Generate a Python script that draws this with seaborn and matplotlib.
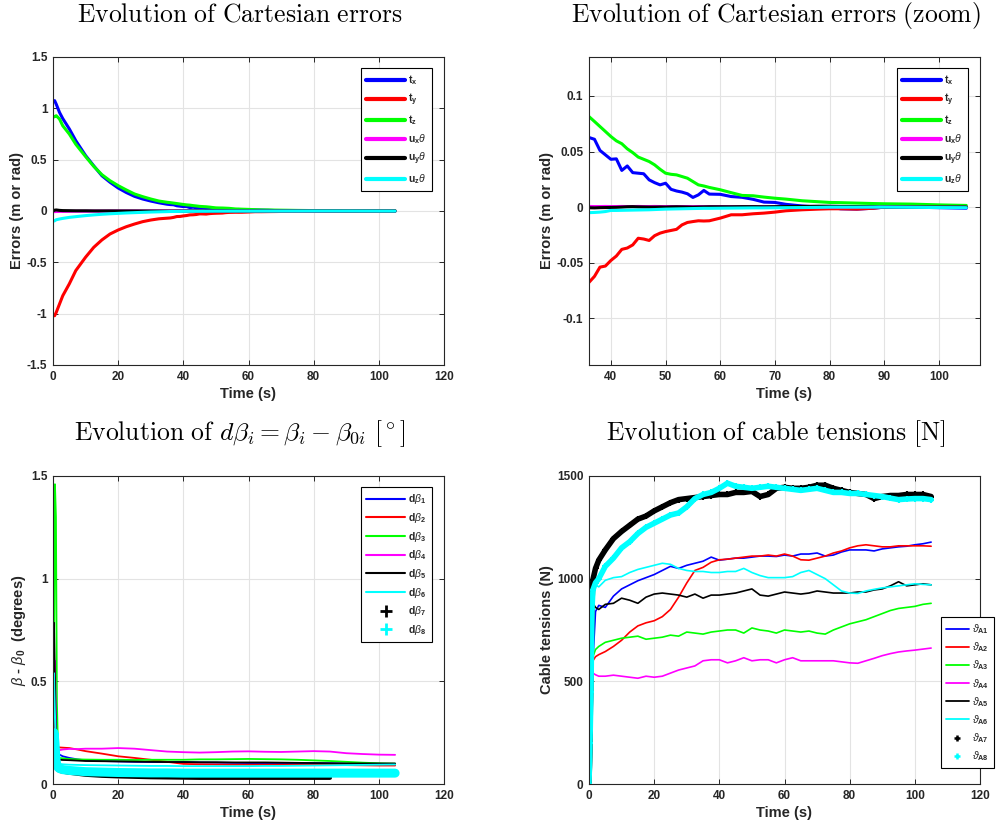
import numpy as np
import matplotlib
matplotlib.use("Agg")
import matplotlib.pyplot as plt
from matplotlib.lines import Line2D
from matplotlib.ticker import FuncFormatter
import seaborn as sns

# ---------------- Cartesian errors (top panels share the samples) ----------------
t_err = [0, 0.5, 1, 2, 3, 5, 7, 10, 12.5, 15, 17.5, 20, 22.5, 25, 27.5, 30, 32.5, 35,
         36, 37, 38, 39, 40, 41, 42, 43, 44, 45, 46, 47, 48, 49, 50, 51, 52, 53, 54, 55, 56, 57, 58,
         60, 62, 64, 66, 68, 70, 72, 75, 78, 80, 82, 85, 88, 90, 95, 100, 105]

tx = [1.065, 1.075, 1.04, 0.96, 0.90, 0.80, 0.685, 0.54, 0.44, 0.344, 0.28, 0.224, 0.18, 0.143, 0.117, 0.097, 0.08, 0.066,
      0.0626, 0.061, 0.051, 0.047, 0.043, 0.0434, 0.033, 0.037, 0.031, 0.0305, 0.030, 0.0245, 0.022, 0.020, 0.0215,
      0.016, 0.0145, 0.0135, 0.012, 0.0087, 0.011, 0.015, 0.0117,
      0.0115, 0.0095, 0.0088, 0.007, 0.0045, 0.0042, 0.0025, 0.001, 0.0, 0.0, -0.0015, -0.0018, -0.001, 0.0, 0.0, -0.0005, -0.001]
ty = [-1.02, -1.02, -0.987, -0.906, -0.825, -0.71, -0.58, -0.45, -0.354, -0.282, -0.224, -0.185, -0.153, -0.127, -0.104, -0.088, -0.076, -0.07,
      -0.0677, -0.0623, -0.054, -0.053, -0.048, -0.044, -0.038, -0.0368, -0.034, -0.028, -0.0287, -0.030, -0.0257, -0.0234, -0.022,
      -0.021, -0.020, -0.016, -0.0138, -0.013, -0.0123, -0.0125, -0.0123,
      -0.0099, -0.0069, -0.0069, -0.006, -0.0054, -0.0045, -0.0033, -0.0024, -0.0018, -0.0015, -0.0015, -0.0018, -0.001, 0.0, 0.0, 0.0, 0.0]
tz = [0.912, 0.92, 0.928, 0.896, 0.83, 0.75, 0.65, 0.53, 0.435, 0.354, 0.295, 0.247, 0.205, 0.166, 0.14, 0.117, 0.097, 0.085,
      0.0814, 0.077, 0.0725, 0.068, 0.0635, 0.0596, 0.057, 0.0524, 0.049, 0.045, 0.043, 0.041, 0.038, 0.034, 0.0305,
      0.0295, 0.029, 0.0275, 0.026, 0.023, 0.020, 0.019, 0.0177,
      0.0156, 0.013, 0.0105, 0.0102, 0.009, 0.008, 0.0072, 0.0057, 0.0048, 0.0042, 0.004, 0.0036, 0.0032, 0.003, 0.0027, 0.002, 0.0015]
ux = [-0.005, -0.006, -0.005, -0.004, -0.004, -0.003, -0.002, -0.002, -0.001, -0.001, -0.0005, 0, 0, 0, 0, 0.0003, 0.0005, 0.0005,
      0.0006, 0.0005, 0.0005, 0.0006, 0.0005, 0.0005, 0.0006, 0.0005, 0.0005, 0.0006, 0.0005, 0.0005, 0.0006, 0.0005, 0.0005,
      0.0005, 0.0004, 0.0005, 0.0005, 0.0004, 0.0005, 0.0004, 0.0004,
      0.0004, 0.0003, 0.0002, 0.0002, 0.0001, 0, 0, 0, 0, 0, 0, 0, 0, 0, 0, 0, 0]
uy = [0.0, 0.008, 0.01, 0.006, 0.004, 0.003, 0.002, 0.002, 0.001, 0.001, 0.001, 0.0005, 0.0005, 0.0003, 0.0, -0.0003, -0.0005, -0.0006,
      -0.0006, -0.0007, -0.0005, -0.0004, -0.0003, -0.0002, 0.0, 0.0003, 0.0004, 0.0002, 0.0001, 0.0, 0.0, 0.0001, 0.0,
      0.0002, 0.0003, 0.0002, 0.0001, 0.0, 0.0001, 0.0002, 0.0003,
      0.0003, 0.0003, 0.0004, 0.0004, 0.0003, 0.0004, 0.0005, 0.0006, 0.0008, 0.0008, 0.0006, 0.0005, 0.0003, 0.0, 0.0, 0.0, 0.0]
uz = [-0.10, -0.095, -0.085, -0.078, -0.072, -0.062, -0.055, -0.045, -0.038, -0.032, -0.027, -0.023, -0.019, -0.016, -0.013, -0.01, -0.008, -0.006,
      -0.005, -0.0048, -0.0045, -0.004, -0.003, -0.003, -0.0029, -0.0028, -0.0027, -0.0026, -0.0025, -0.0024, -0.0022, -0.002, -0.0018,
      -0.0017, -0.0016, -0.0015, -0.0014, -0.0013, -0.0012, -0.0011, -0.0011,
      -0.001, -0.0009, -0.0008, -0.0007, -0.0007, -0.0006, -0.0005, -0.0004, -0.0002, 0.0, 0.0, 0.0, 0.0, 0.0, -0.0002, -0.0004, -0.0005]

err_labels = [r'$\mathbf{t}_{\mathbf{x}}$', r'$\mathbf{t}_{\mathbf{y}}$', r'$\mathbf{t}_{\mathbf{z}}$',
              r'$\mathbf{u}_{\mathbf{x}}\theta$', r'$\mathbf{u}_{\mathbf{y}}\theta$', r'$\mathbf{u}_{\mathbf{z}}\theta$']

# ---------------- d beta ----------------
t_beta = [0, 0.3, 0.6, 0.9, 1.2, 1.6, 2, 3, 5, 7.5, 10, 15, 20, 25, 30, 35, 40, 45, 50, 55,
          60, 65, 70, 75, 80, 85, 90, 95, 100, 105]
d1 = [0.2, 0.3, 0.35, 0.25, 0.18, 0.15, 0.143, 0.135, 0.127, 0.12, 0.115, 0.112, 0.11, 0.108, 0.107, 0.107, 0.107, 0.105, 0.104, 0.103,
      0.102, 0.102, 0.102, 0.102, 0.102, 0.101, 0.1, 0.099, 0.098, 0.097]
d2 = [0.2, 0.25, 0.3, 0.25, 0.2, 0.18, 0.178, 0.177, 0.175, 0.168, 0.16, 0.148, 0.135, 0.127, 0.118, 0.108, 0.098, 0.096, 0.095, 0.094,
      0.094, 0.094, 0.094, 0.094, 0.094, 0.093, 0.092, 0.091, 0.09, 0.09]
d3 = [0.2, 0.6, 1.46, 1.3, 0.4, 0.13, 0.127, 0.125, 0.122, 0.12, 0.119, 0.118, 0.118, 0.117, 0.118, 0.118, 0.118, 0.12, 0.12, 0.121,
      0.122, 0.121, 0.12, 0.118, 0.115, 0.112, 0.108, 0.104, 0.101, 0.099]
d4 = [0.2, 0.5, 0.6, 0.3, 0.18, 0.165, 0.165, 0.168, 0.171, 0.17, 0.172, 0.172, 0.175, 0.172, 0.165, 0.158, 0.155, 0.153, 0.155, 0.158,
      0.159, 0.157, 0.156, 0.158, 0.16, 0.158, 0.15, 0.146, 0.143, 0.142]
d5 = [0.2, 0.785, 0.5, 0.25, 0.15, 0.12, 0.118, 0.117, 0.116, 0.114, 0.112, 0.111, 0.11, 0.109, 0.108, 0.107, 0.107, 0.106, 0.106, 0.105,
      0.105, 0.105, 0.104, 0.103, 0.102, 0.101, 0.1, 0.1, 0.1, 0.1]
d6 = [0.2, 0.54, 0.35, 0.2, 0.12, 0.1, 0.098, 0.096, 0.094, 0.093, 0.092, 0.091, 0.09, 0.089, 0.088, 0.088, 0.087, 0.087, 0.087, 0.087,
      0.087, 0.088, 0.088, 0.089, 0.09, 0.091, 0.092, 0.093, 0.094, 0.095]
d7 = [0.15, 0.2, 0.12, 0.09, 0.075, 0.068, 0.064, 0.06, 0.055, 0.05, 0.045, 0.04, 0.037, 0.035, 0.033, 0.032, 0.031, 0.03, 0.03, 0.03,
      0.03, 0.03, 0.03, 0.03, 0.03, 0.03, np.nan, np.nan, np.nan, np.nan]
d8 = [0.2, 0.25, 0.2, 0.12, 0.09, 0.08, 0.075, 0.07, 0.066, 0.063, 0.06, 0.058, 0.056, 0.055, 0.054, 0.054, 0.053, 0.053, 0.053, 0.053,
      0.053, 0.053, 0.053, 0.053, 0.053, 0.053, 0.053, 0.053, 0.053, 0.053]
beta_labels = [r'$\mathbf{d}\beta_{\mathbf{%d}}$' % i for i in range(1, 9)]

# ---------------- cable tensions ----------------
t_ten = [0, 0.3, 0.6, 0.9, 1.2, 2, 3, 5, 7.5, 10, 12.5, 15, 17.5, 20, 22.5, 25, 27.5, 30, 32.5, 35, 37.5, 40,
         42.5, 45, 47.5, 50, 52.5, 55, 57.5, 60, 62.5, 65, 67.5, 70, 72.5, 75, 77.5, 80, 82.5, 85, 87.5, 90,
         92.5, 95, 97.5, 100, 102.5, 105]
A1 = [0, 0, 0, 300, 600, 840, 870, 860,
      915, 950, 970, 990, 1005, 1020, 1040, 1060, 1050, 1065, 1075, 1085, 1105, 1090, 1095, 1100, 1100, 1105, 1110, 1110,
      1108, 1115, 1110, 1120, 1120, 1125, 1110, 1115, 1130, 1140, 1140, 1140, 1135, 1145, 1150, 1155, 1158, 1165, 1170, 1178]
A2 = [0, 0, 100, 590, 600, 620, 630, 645,
      670, 700, 740, 770, 785, 795, 815, 850, 910, 979, 1040, 1055, 1080, 1092, 1095, 1100, 1105, 1110, 1110, 1115,
      1110, 1120, 1110, 1092, 1090, 1100, 1110, 1125, 1135, 1150, 1160, 1165, 1160, 1155, 1155, 1160, 1160, 1160, 1160, 1158]
A3 = [0, 0, 0, 300, 620, 655, 670, 690,
      700, 710, 715, 720, 705, 710, 715, 725, 720, 740, 735, 730, 740, 745, 750, 750, 735, 760, 750, 745,
      735, 750, 745, 740, 745, 735, 730, 750, 765, 780, 790, 800, 815, 830, 845, 855, 860, 865, 875, 880]
A4 = [0, 0, 300, 557, 540, 532, 525, 525,
      530, 525, 520, 515, 525, 520, 525, 540, 555, 565, 575, 600, 605, 605, 590, 600, 615, 600, 605, 605,
      590, 605, 615, 600, 600, 600, 600, 600, 595, 590, 588, 600, 612, 625, 635, 643, 648, 652, 657, 662]
A5 = [0, 400, 800, 850, 880, 860, 850, 875,
      880, 905, 895, 880, 910, 925, 930, 925, 920, 910, 925, 905, 920, 920, 925, 930, 940, 950, 920, 915,
      925, 935, 930, 925, 930, 940, 935, 930, 930, 930, 935, 935, 945, 950, 965, 985, 965, 970, 975, 970]
A6 = [0, 400, 850, 960, 980, 970, 960, 992,
      1005, 1010, 1030, 1045, 1055, 1065, 1075, 1070, 1050, 1040, 1035, 1035, 1030, 1030, 1035, 1035, 1050, 1030, 1015, 1005,
      1005, 1005, 1010, 1030, 1040, 1020, 1000, 970, 940, 930, 928, 940, 948, 955, 960, 965, 970, 975, 972, 970]
A7 = [0, 240, 600, 880, 995, 1050, 1090, 1140,
      1195, 1230, 1260, 1290, 1305, 1330, 1350, 1370, 1385, 1390, 1395, 1400, 1405, 1410, 1410, 1420, 1420, 1425, 1400, 1410,
      1440, 1445, 1440, 1440, 1445, 1455, 1455, 1440, 1430, 1420, 1415, 1410, 1390, 1400, 1405, 1405, 1410, 1410, 1410, 1400]
A8 = [0, 200, 450, 850, 945, 980, 1000, 1060,
      1100, 1150, 1180, 1220, 1250, 1270, 1290, 1310, 1320, 1350, 1390, 1410, 1420, 1440, 1465, 1450, 1445, 1440, 1445, 1450,
      1445, 1440, 1435, 1430, 1435, 1440, 1430, 1420, 1420, 1415, 1415, 1410, 1405, 1400, 1392, 1385, 1388, 1390, 1390, 1385]
ten_labels = [r'$\vartheta_{\mathbf{A%d}}$' % i for i in range(1, 9)]

colors = ['#0000ff', '#ff0000', '#00ff00', '#ff00ff', '#000000', '#00ffff']

sns.set_style("ticks")
plt.rcParams['font.family'] = ['Liberation Sans', 'DejaVu Sans']
plt.rcParams['mathtext.fontset'] = 'custom'
plt.rcParams['mathtext.rm'] = 'Liberation Sans'
plt.rcParams['mathtext.it'] = 'Liberation Sans:italic'
plt.rcParams['mathtext.bf'] = 'Liberation Sans:bold'
plt.rcParams['axes.unicode_minus'] = False

fig = plt.figure(figsize=(9.99, 8.3), dpi=100)
W, H = 999, 830


def make_ax(x0, y0, x1, y1):
    return fig.add_axes([x0 / W, 1 - y1 / H, (x1 - x0) / W, (y1 - y0) / H])


def style(ax, xlim, ylim, xticks, yticks, ylabel, title):
    ax.set_xlim(*xlim)
    ax.set_ylim(*ylim)
    ax.set_xticks(xticks)
    ax.set_yticks(yticks)
    fmt = FuncFormatter(lambda v, p: '%g' % round(v, 6))
    ax.xaxis.set_major_formatter(fmt)
    ax.yaxis.set_major_formatter(fmt)
    ax.grid(True, color='#e3e3e3', lw=0.8)
    ax.set_axisbelow(True)
    ax.tick_params(direction='in', length=3.5, width=0.7, top=True, right=True,
                   labelsize=8.5, colors='#262626', pad=4)
    for lab in ax.get_xticklabels() + ax.get_yticklabels():
        lab.set_fontweight('bold')
    for s in ax.spines.values():
        s.set_color('#262626')
        s.set_linewidth(0.8)
    ax.set_xlabel('Time (s)', fontsize=10.5, fontweight='bold', color='#262626', labelpad=3)
    ax.set_ylabel(ylabel, fontsize=10.5, fontweight='bold', color='#262626', labelpad=2)
    # titles sit a little left of the axes centre in the original
    ax.set_title(title, fontsize=18.5, math_fontfamily='cm', pad=25.5, color='black',
                 x=0.5 - 9 / 391)


def legend(ax, handles, labels, right, top, hl, spacing):
    lg = ax.legend(handles, labels, loc='upper right', bbox_to_anchor=(right / W, 1 - top / H),
                   bbox_transform=fig.transFigure, fontsize=7.5, frameon=True, fancybox=False,
                   framealpha=1, edgecolor='black', borderaxespad=0, handlelength=hl,
                   handletextpad=0.3, labelspacing=spacing, borderpad=0.5)
    lg.get_frame().set_linewidth(0.8)
    for txt in lg.get_texts():
        txt.set_fontweight('bold')


err_series = [tx, ty, tz, ux, uy, uz]

# panel 1
ax1 = make_ax(53, 57, 444, 365)
for vals, c in zip(err_series, colors):
    sns.lineplot(x=t_err, y=vals, ax=ax1, color=c, lw=2.2, estimator=None, sort=False)
style(ax1, (0, 120), (-1.5, 1.5), range(0, 121, 20), [-1.5, -1, -0.5, 0, 0.5, 1, 1.5],
      'Errors (m or rad)', r'$\mathrm{Evolution\ of\ Cartesian\ errors}$')
legend(ax1, [Line2D([], [], color=c, lw=3) for c in colors], err_labels, 432, 68, 3.8, 0.48)

# panel 2 (zoom)
ax2 = make_ax(589, 57, 980, 365)
for vals, c in zip(err_series, colors):
    sns.lineplot(x=t_err, y=vals, ax=ax2, color=c, lw=2.2, estimator=None, sort=False)
style(ax2, (36, 107.5), (-0.142, 0.135), range(40, 101, 10), [-0.1, -0.05, 0, 0.05, 0.1],
      'Errors (m or rad)', r'$\mathrm{Evolution\ of\ Cartesian\ errors\ (zoom)}$')
legend(ax2, [Line2D([], [], color=c, lw=3) for c in colors], err_labels, 968, 68, 3.8, 0.48)

# panel 3
ax3 = make_ax(53, 476, 444, 784)
for vals, c in zip([d1, d2, d3, d4, d5, d6], colors):
    sns.lineplot(x=t_beta, y=vals, ax=ax3, color=c, lw=1.3, estimator=None, sort=False)
sns.lineplot(x=t_beta, y=d7, ax=ax3, color='black', lw=3.0, estimator=None, sort=False)
sns.lineplot(x=t_beta, y=d8, ax=ax3, color='#00ffff', lw=6.5, estimator=None, sort=False)
style(ax3, (0, 120), (0, 1.5), range(0, 121, 20), [0, 0.5, 1, 1.5],
      r'$\beta$ - $\beta_{\mathbf{0}}$  (degrees)',
      r'$\mathrm{Evolution\ of\ }d\beta_i=\beta_i-\beta_{0i}\ [^\circ]$')
h3 = [Line2D([], [], color=c, lw=1.5) for c in colors]
h3 += [Line2D([], [], color='black', lw=0, marker='+', ms=8, mew=2),
       Line2D([], [], color='#00ffff', lw=0, marker='+', ms=8, mew=2)]
legend(ax3, h3, beta_labels, 432, 487, 3.8, 0.45)

# panel 4
ax4 = make_ax(589, 476, 980, 784)
for vals, c in zip([A1, A2, A3, A4, A5, A6], colors):
    sns.lineplot(x=t_ten, y=vals, ax=ax4, color=c, lw=1.2, estimator=None, sort=False)
for vals, c in zip([A7, A8], ['black', '#00ffff']):
    sns.lineplot(x=t_ten, y=vals, ax=ax4, color=c, lw=4.0, marker='+', ms=5, mew=1.5,
                 mec=c, mfc=c, estimator=None, sort=False)
style(ax4, (0, 120), (0, 1500), range(0, 121, 20), [0, 500, 1000, 1500],
      'Cable tensions (N)', r'$\mathrm{Evolution\ of\ cable\ tensions\ [N]}$')
h4 = [Line2D([], [], color=c, lw=1.3) for c in colors]
h4 += [Line2D([], [], color='black', lw=0, marker='+', ms=4, mew=1.8),
       Line2D([], [], color='#00ffff', lw=0, marker='+', ms=4, mew=1.8)]
legend(ax4, h4, ten_labels, 994, 617, 2.2, 0.42)

fig.savefig('out.png', dpi=100)
